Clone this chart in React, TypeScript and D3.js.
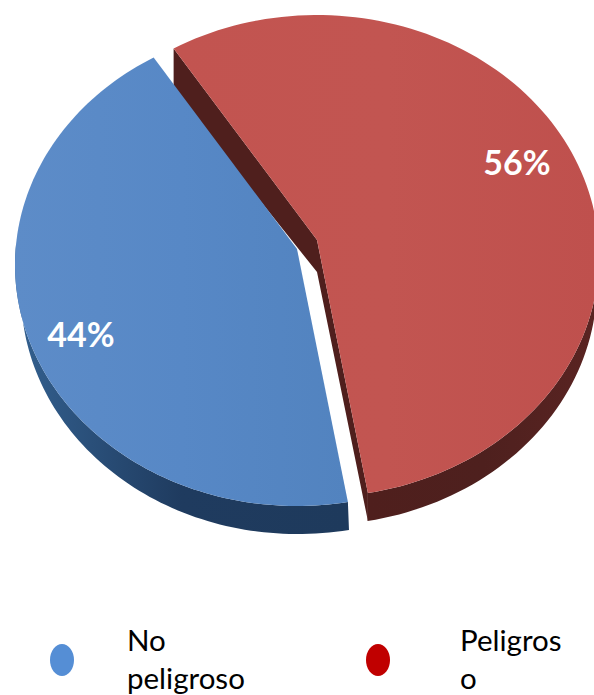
import { useRef, useEffect } from "react";
import * as d3 from "d3";

const categories = ["No peligroso", "Peligroso"];
const values = [44.4, 55.6];
const valueLabels = ["44%", "56%"];
const legendLines = [["No", "peligroso"], ["Peligros", "o"]];

const width = 594;
const height = 695;
const rad = Math.PI / 180;

// each slice is exploded on its own, ellipse because of the 3d tilt
const slices = [
  { cx: 297, cy: 265, apexY: 249, top: "blueTop", wall: "blueWall", lean: 6 },
  { cx: 317, cy: 256, apexY: 240, top: "redTop", wall: "redWall", lean: -2 },
];
const rx = 282;
const ry = 241;
const depth = 28;

const labelPos = [
  { x: 81, y: 347 },
  { x: 517, y: 175 },
];
const legendPos = [
  { dot: 62, text: 127, color: "#558ED5" },
  { dot: 378, text: 460, color: "#C00000" },
];

export default function App() {
  const ref = useRef<SVGSVGElement | null>(null);

  useEffect(() => {
    const svg = d3.select(ref.current!);
    svg.selectAll("*").remove();

    //gradients
    const defs = svg.append("defs");
    const grad = (id: string, c0: string, c1: string, c2: string) => {
      const g = defs.append("linearGradient").attr("id", id)
        .attr("x1", "0%").attr("x2", "100%").attr("y1", "0%").attr("y2", "0%");
      g.append("stop").attr("offset", "0%").attr("stop-color", c0);
      g.append("stop").attr("offset", "50%").attr("stop-color", c1);
      g.append("stop").attr("offset", "100%").attr("stop-color", c2);
    };
    grad("blueTop", "#5D8CC8", "#5788C6", "#5283BF");
    grad("redTop", "#C25450", "#C25551", "#BF504D");
    grad("blueWall", "#33608F", "#1F3B5F", "#1E3A5C");
    grad("redWall", "#4F1F1D", "#4E201E", "#5A2422");

    const pie = d3.pie<number>().sort(null).startAngle(-190.4 * rad).endAngle(169.6 * rad);
    const arcs = pie(values);

    const line = d3.line<[number, number]>();
    const order = [1, 0];

    order.forEach((i) => {
      const s = slices[i];
      const a = arcs[i];
      const pt = (t: number): [number, number] => [
        s.cx + rx * Math.sin(t),
        s.cy - ry * Math.cos(t),
      ];
      const angle = d3.scaleLinear().domain([0, 120]).range([a.startAngle, a.endAngle]);
      const angles = d3.range(0, 121).map((k) => angle(k));
      const rim = angles.map(pt);
      const apex: [number, number] = [s.cx, s.apexY];
      const down = (p: [number, number], d = depth): [number, number] => [p[0], p[1] + d];

      // outer wall only on the lower half of the ellipse, leaning in towards the sides
      const wallAngles = angles.filter((t) =>
        i === 0 ? t <= -85 * rad : t >= 85 * rad
      );
      const wallRim = wallAngles.map(pt);
      const wallLow = wallAngles.map((t): [number, number] => {
        const p = down(pt(t));
        return [p[0] + s.lean * Math.abs(Math.sin(t)), p[1]];
      });
      svg.append("path")
        .attr("d", line([...wallRim, ...wallLow.reverse()]) + "Z")
        .attr("fill", `url(#${s.wall})`);

      // cut faces, the lower edge runs in behind the blue slice
      const first = rim[0];
      const last = rim[rim.length - 1];
      if (i === 1) {
        svg.append("path")
          .attr("d", line([first, apex, last, down(last), down(apex, 32), down(first, 44)]) + "Z")
          .attr("fill", "#4F1F1D");
      }

      svg.append("path")
        .attr("d", line([apex, ...rim]) + "Z")
        .attr("fill", `url(#${s.top})`);
    });

    //value labels
    svg.selectAll(".value")
      .data(valueLabels)
      .join("text")
      .attr("class", "value")
      .attr("x", (_, i) => labelPos[i].x)
      .attr("y", (_, i) => labelPos[i].y)
      .attr("text-anchor", "middle")
      .attr("font-family", "Lato")
      .attr("font-weight", 700)
      .attr("font-size", 34)
      .attr("fill", "#fff")
      .text((d) => d);

    //legend
    const legend = svg.selectAll(".legend")
      .data(categories)
      .join("g")
      .attr("class", "legend");
    legend.append("ellipse")
      .attr("cx", (_, i) => legendPos[i].dot)
      .attr("cy", 660)
      .attr("rx", 12)
      .attr("ry", 16)
      .attr("fill", (_, i) => legendPos[i].color);
    legend.each(function (_, i) {
      legendLines[i].forEach((t, k) => {
        d3.select(this).append("text")
          .attr("x", legendPos[i].text)
          .attr("y", 651 + k * 38)
          .attr("font-family", "Lato")
          .attr("font-size", 29.5)
          .attr("fill", "#000")
          .text(t);
      });
    });
  }, []);

  return (
    <svg
      ref={ref}
      width={width}
      height={height}
      style={{ position: "absolute", left: 0, top: 0, background: "#fff" }}
    ></svg>
  );
}
